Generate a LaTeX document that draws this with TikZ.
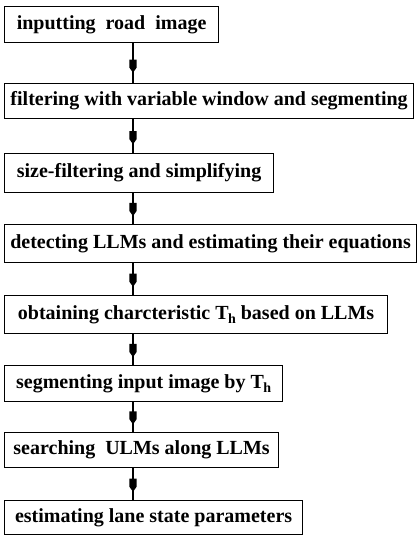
\documentclass[tikz,border=0pt]{standalone}
\usepackage{fontspec}
\setmainfont{Liberation Serif}
\usetikzlibrary{decorations.markings}
\tikzset{
  stepbox/.style={draw, line width=1.2pt, inner sep=0pt, anchor=north west,
    font=\fontsize{20}{20}\selectfont\bfseries},
  flow/.style={line width=1.2pt, postaction={decorate}, decoration={markings,
    mark=at position 0.74 with {\fill (-13,-3.6) -- (-5,-3.6) -- (0,0) -- (-5,3.6) -- (-13,3.6) -- cycle;}}}
}
\newcommand{\Th}{T\kern-0.03em\raisebox{-0.45ex}{\fontsize{14}{14}\selectfont h}}
\begin{document}
\begin{tikzpicture}[x=1pt,y=1pt]
\useasboundingbox (0,0) rectangle (418,-535);
\coordinate (ax) at (133,0);
\node[stepbox, minimum width=214, minimum height=36] (b1) at (4,-6) {inputting\ \ road\ \ image};
\node[stepbox, minimum width=409, minimum height=35] (b2) at (4,-83) {filtering with variable window and segmenting};
\node[stepbox, minimum width=269, minimum height=39] (b3) at (4,-153) {size-filtering and simplifying};
\node[stepbox, minimum width=412, minimum height=38] (b4) at (4,-224) {detecting LLMs and estimating their equations};
\node[stepbox, minimum width=383, minimum height=38] (b5) at (4,-295) {obtaining charcteristic \Th{} based on LLMs};
\node[stepbox, minimum width=278, minimum height=36] (b6) at (4,-365) {segmenting input image by \Th};
\node[stepbox, minimum width=274, minimum height=35] (b7) at (4,-432) {searching\ \ ULMs along LLMs};
\node[stepbox, minimum width=298, minimum height=34] (b8) at (4,-500) {estimating lane state parameters};
\draw[flow] (b1.south -| ax) -- (b2.north -| ax);
\draw[flow] (b2.south -| ax) -- (b3.north -| ax);
\draw[flow] (b3.south -| ax) -- (b4.north -| ax);
\draw[flow] (b4.south -| ax) -- (b5.north -| ax);
\draw[flow] (b5.south -| ax) -- (b6.north -| ax);
\draw[flow] (b6.south -| ax) -- (b7.north -| ax);
\draw[flow] (b7.south -| ax) -- (b8.north -| ax);
\end{tikzpicture}
\end{document}
